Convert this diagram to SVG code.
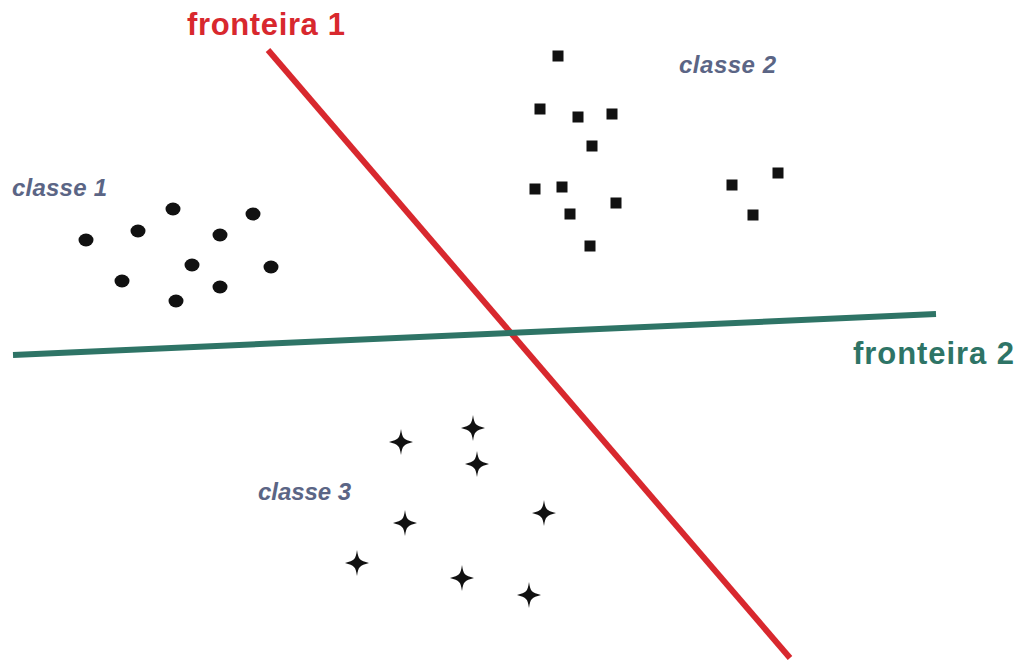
<svg xmlns="http://www.w3.org/2000/svg" width="1018" height="663" viewBox="0 0 1018 663">
<defs>
<style>
.lbl{font-family:"Liberation Sans",Arial,sans-serif;font-weight:bold;font-style:italic;font-size:24px;fill:#5b6585}
.fr{font-family:"Liberation Sans",Arial,sans-serif;font-weight:bold;font-size:31px}
.dot{fill:#111}
.sq{fill:#111}
.st{fill:#111}
</style>
<path id="star" d="M0,-13 C1.5,-3.5 2.5,-2.5 12,0 C2.5,2.5 1.5,3.5 0,13 C-1.5,3.5 -2.5,2.5 -12,0 C-2.5,-2.5 -1.5,-3.5 0,-13 Z"/>
<rect id="sqr" x="-5.5" y="-5.5" width="11" height="11"/>
</defs>
<rect width="1018" height="663" fill="#fff"/>
<g id="connectors">
<line x1="268" y1="50" x2="790" y2="658" stroke="#d8282e" stroke-width="6"/>
<line x1="13" y1="355" x2="936" y2="314" stroke="#2e7466" stroke-width="6"/>
</g>
<g id="fronteira1"><text class="fr" x="187" y="35" fill="#d8282e" textLength="158">fronteira 1</text></g>
<g id="fronteira2"><text class="fr" x="853" y="364" fill="#2e7466" textLength="161">fronteira 2</text></g>
<g id="classe1">
<text class="lbl" x="12" y="196" textLength="95">classe 1</text>
<g class="dot">
<ellipse cx="86" cy="240" rx="7.5" ry="6.5"/>
<ellipse cx="138" cy="231" rx="7.5" ry="6.5"/>
<ellipse cx="173" cy="209" rx="7.5" ry="6.5"/>
<ellipse cx="253" cy="214" rx="7.5" ry="6.5"/>
<ellipse cx="220" cy="235" rx="7.5" ry="6.5"/>
<ellipse cx="192" cy="265" rx="7.5" ry="6.5"/>
<ellipse cx="271" cy="267" rx="7.5" ry="6.5"/>
<ellipse cx="122" cy="281" rx="7.5" ry="6.5"/>
<ellipse cx="220" cy="287" rx="7.5" ry="6.5"/>
<ellipse cx="176" cy="301" rx="7.5" ry="6.5"/>
</g>
</g>
<g id="classe2">
<text class="lbl" x="679" y="73" textLength="97">classe 2</text>
<g class="sq">
<use href="#sqr" x="558" y="56"/>
<use href="#sqr" x="540" y="109"/>
<use href="#sqr" x="578" y="117"/>
<use href="#sqr" x="612" y="114"/>
<use href="#sqr" x="592" y="146"/>
<use href="#sqr" x="535" y="189"/>
<use href="#sqr" x="562" y="187"/>
<use href="#sqr" x="616" y="203"/>
<use href="#sqr" x="570" y="214"/>
<use href="#sqr" x="590" y="246"/>
<use href="#sqr" x="732" y="185"/>
<use href="#sqr" x="778" y="173"/>
<use href="#sqr" x="753" y="215"/>
</g>
</g>
<g id="classe3">
<text class="lbl" x="258" y="500" textLength="93">classe 3</text>
<g class="st">
<use href="#star" x="401" y="442"/>
<use href="#star" x="473" y="428"/>
<use href="#star" x="477" y="464"/>
<use href="#star" x="405" y="523"/>
<use href="#star" x="544" y="513"/>
<use href="#star" x="357" y="563"/>
<use href="#star" x="462" y="578"/>
<use href="#star" x="529" y="595"/>
</g>
</g>
</svg>
